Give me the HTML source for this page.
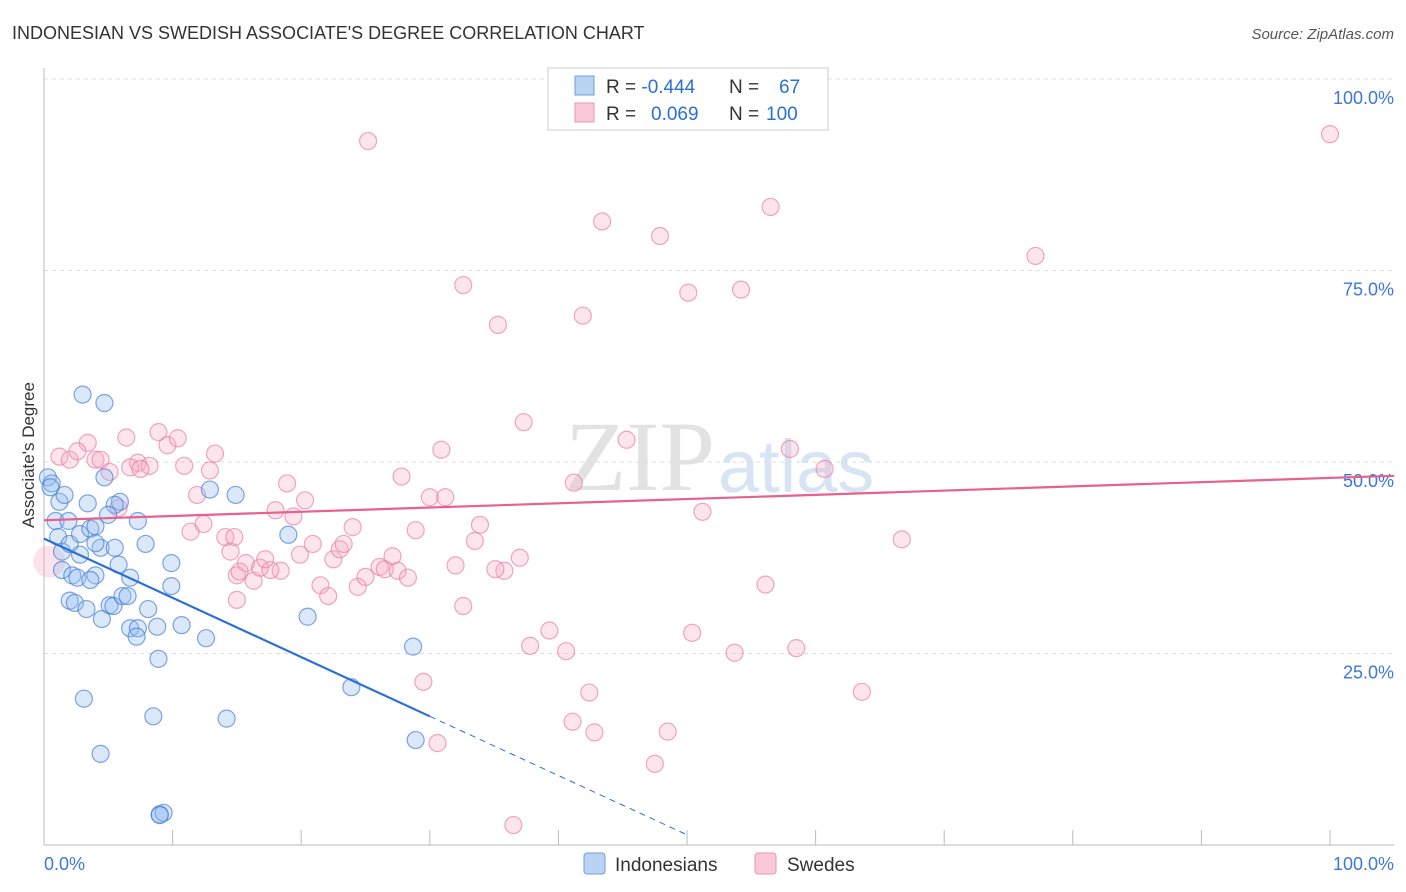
<!DOCTYPE html>
<html><head><meta charset="utf-8"><style>
body{margin:0;background:#fff;font-family:"Liberation Sans",sans-serif;}
#wrap{position:relative;width:1406px;height:892px;overflow:hidden;}
</style></head><body>
<div id="wrap">
<svg id="svg" width="1406" height="892" xmlns="http://www.w3.org/2000/svg">
<text x="12" y="39" font-size="18" fill="#333">INDONESIAN VS SWEDISH ASSOCIATE'S DEGREE CORRELATION CHART</text>
<text x="1394" y="39" font-size="15" font-style="italic" fill="#555" text-anchor="end">Source: ZipAtlas.com</text>
<text x="715" y="490" font-size="100" font-family="Liberation Serif,serif" fill="#e2e2e2" text-anchor="end">ZIP</text>
<text x="718" y="492" font-size="74" fill="#d6e4f4">atlas</text>
<g id="grid"></g><g id="pts"></g><g id="lines"></g>
<text transform="translate(34,455) rotate(-90)" font-size="17" fill="#333" text-anchor="middle">Associate's Degree</text>
<g>
<rect x="548" y="68" width="280" height="62" fill="#fff" stroke="#ccc"/>
<rect x="575" y="76" width="19" height="19" fill="#b9d3f3" stroke="#6a9fe0"/>
<rect x="575" y="103" width="19" height="19" fill="#f9c9d7" stroke="#ee94b0"/>
<text x="606" y="93" font-size="19" fill="#333">R = <tspan fill="#2a6fd6">-0.444</tspan><tspan x="729">N = </tspan><tspan x="779" fill="#2a6fd6">67</tspan></text>
<text x="606" y="120" font-size="19" fill="#333">R = <tspan x="651" fill="#2a6fd6">0.069</tspan><tspan x="729">N = </tspan><tspan x="766" fill="#2a6fd6">100</tspan></text>
</g>
<g>
<rect x="584" y="853" width="21" height="21" rx="3" fill="#b9d3f3" stroke="#6a9fe0"/>
<text x="615" y="871" font-size="19" fill="#333">Indonesians</text>
<rect x="755" y="853" width="21" height="21" rx="3" fill="#f9c9d7" stroke="#ee94b0"/>
<text x="787" y="871" font-size="19" fill="#333">Swedes</text>
</g>
</svg>
</div>
<script>
const yTicks=[0,25,50,75,100];
const yTickLabels=["","25.0%","50.0%","75.0%","100.0%"];
const xTicks=[0,10,20,30,40,50,60,70,80,90,100];
const blueX=[0.3,0.6,0.5,1.2,1.6,0.9,1.9,1.1,1.4,2.0,2.8,3.6,4.0,3.4,4.7,5.9,5.5,4.98,7.3,4.4,5.5,4.0,2.8,1.4,2.2,2.6,4.0,3.6,6.7,5.8,7.9,9.9,9.9,2.0,2.4,3.3,4.5,5.1,5.4,6.1,6.5,8.1,6.7,7.3,8.8,7.2,10.7,12.6,8.9,12.9,14.9,19.0,20.5,3.0,4.7,3.1,4.4,8.5,14.2,23.9,28.7,28.9,9.0,9.3,9.0];
const blueY=[48.0,47.2,46.7,44.8,45.7,42.3,42.3,40.2,38.3,39.3,40.6,41.3,41.6,44.6,48.0,44.8,44.4,43.1,42.3,38.8,38.8,39.4,37.9,35.9,35.2,34.9,35.2,34.6,34.9,36.6,39.3,36.8,33.8,31.9,31.6,30.8,29.5,31.3,31.2,32.5,32.5,30.8,28.3,28.3,28.5,27.2,28.7,27.0,24.3,46.4,45.7,40.5,29.8,58.8,57.7,19.1,11.9,16.8,16.5,20.6,25.9,13.7,4.0,4.2,3.9];
const pinkX=[25.2,100,43.4,56.5,47.9,77.1,32.6,50.1,54.2,35.3,41.9,37.3,45.3,58.0,60.7,30.9,41.2,51.2,66.7,1.2,2.0,3.4,2.6,4.0,4.4,5.1,6.4,7.3,6.7,8.2,8.9,9.6,10.4,10.9,12.9,13.3,11.9,11.4,12.4,14.1,14.5,15.0,15.7,16.3,16.8,18.0,18.4,18.9,19.4,19.9,20.3,20.9,21.5,22.1,22.5,23.0,23.3,24.0,24.4,25.0,26.1,26.5,27.1,27.5,27.8,28.3,28.9,30.0,31.2,32.0,33.5,33.9,32.6,37.0,35.8,35.1,39.3,37.8,40.6,42.4,41.1,42.8,48.5,47.5,36.5,30.6,29.5,50.4,53.7,56.1,58.5,63.6,15.0,15.2,17.6,14.8,17.2,5.8,7.5];
const pinkY=[91.9,92.8,81.4,83.3,79.5,76.9,73.1,72.1,72.5,67.9,69.1,55.2,52.9,51.7,49.1,51.6,47.3,43.5,39.9,50.7,50.3,52.5,51.4,50.3,50.3,48.7,53.2,49.9,49.3,49.5,53.9,52.2,53.1,49.5,48.9,51.1,45.7,40.9,41.9,40.2,38.3,35.2,36.8,34.5,36.2,43.7,35.8,47.2,42.9,37.9,45.0,39.3,33.9,32.5,37.3,38.6,39.3,41.5,33.7,35.0,36.3,36.0,37.7,35.8,48.1,34.9,41.1,45.4,45.4,36.5,39.7,41.8,31.2,37.5,35.8,36.0,28.0,26.0,25.3,19.9,16.1,14.7,14.8,10.6,2.6,13.3,21.3,27.7,25.1,34.0,25.7,20.0,32.0,35.7,35.9,40.2,37.3,44.0,49.1];
const blueLine={x0:0,y0:40.0,x1:30,y1:16.8,xd:50.2};
const pinkLine={x0:0,y0:42.4,x1:105,y1:48.2};
const X0=44,X1=1330,Y0=845,Y100=79;
const sx=v=>X0+(X1-X0)*v/100, sy=v=>Y0-(Y0-Y100)*v/100;
const NS="http://www.w3.org/2000/svg";
function mk(tag,attrs,parent){const e=document.createElementNS(NS,tag);for(const k in attrs)e.setAttribute(k,attrs[k]);parent.appendChild(e);return e;}
const grid=document.getElementById('grid');
yTicks.forEach((t,i)=>{
  if(t>0){const l=mk('line',{x1:X0,x2:1394,y1:sy(t),y2:sy(t),stroke:'#ddd','stroke-dasharray':'4,4'},grid);
  
  }
  if(yTickLabels[i]){const tx=mk('text',{x:1394,y:sy(t)+25,'font-size':18,fill:'#3b78d8','text-anchor':'end'},grid);tx.textContent=yTickLabels[i];
  
  }
});
const ax=mk('line',{x1:X0,x2:X0,y1:68,y2:Y0,stroke:'#bbb'},grid);


const bx=mk('line',{x1:X0,x2:1394,y1:Y0,y2:Y0,stroke:'#bbb'},grid);


xTicks.forEach(t=>{const l=mk('line',{x1:sx(t),x2:sx(t),y1:Y0,y2:Y0-15,stroke:'#bbb'},grid);

});
const xl0=mk('text',{x:44,y:870,'font-size':18,fill:'#3b78d8'},grid);xl0.textContent='0.0%';


const xl1=mk('text',{x:1394,y:870,'font-size':18,fill:'#3b78d8','text-anchor':'end'},grid);xl1.textContent='100.0%';


const pts=document.getElementById('pts');
const big=mk('circle',{cx:sx(0.4),cy:sy(37),r:16,fill:'rgba(244,160,185,0.3)'},pts);


pinkX.forEach((x,i)=>{const c=mk('circle',{cx:sx(x),cy:sy(pinkY[i]),r:8.5,fill:'rgba(245,170,195,0.3)',stroke:'rgba(234,120,160,0.65)','stroke-width':1.2},pts);

});
blueX.forEach((x,i)=>{const c=mk('circle',{cx:sx(x),cy:sy(blueY[i]),r:8.5,fill:'rgba(150,190,240,0.35)',stroke:'rgba(60,120,210,0.65)','stroke-width':1.2},pts);

});
const lines=document.getElementById('lines');
const slope=(blueLine.y1-blueLine.y0)/(blueLine.x1-blueLine.x0);
const b1=mk('line',{x1:sx(blueLine.x0),y1:sy(blueLine.y0),x2:sx(blueLine.x1),y2:sy(blueLine.y1),stroke:'#2a6fd6','stroke-width':2.2},lines);


const b2=mk('line',{x1:sx(blueLine.x1),y1:sy(blueLine.y1),x2:sx(blueLine.xd),y2:sy(blueLine.y0+slope*blueLine.xd),stroke:'#2a6fd6','stroke-width':1,'stroke-dasharray':'6,5'},lines);


const p1=mk('line',{x1:sx(pinkLine.x0),y1:sy(pinkLine.y0),x2:sx(pinkLine.x1),y2:sy(pinkLine.y1),stroke:'#e8608c','stroke-width':2.2},lines);


</script>
</body></html>
